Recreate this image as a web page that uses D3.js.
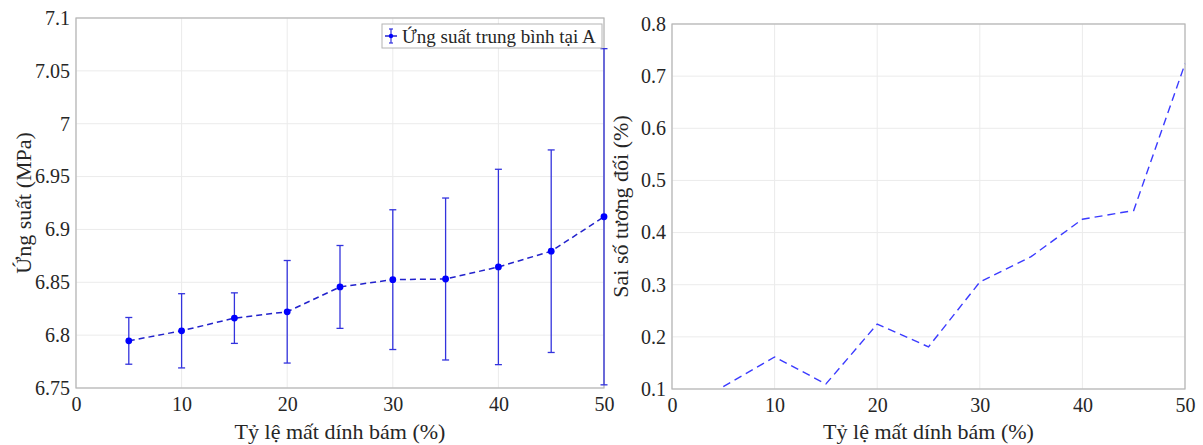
<!DOCTYPE html>
<html>
<head>
<meta charset="utf-8">
<script src="https://cdn.jsdelivr.net/npm/d3@7"></script>
<style>
  html, body { margin: 0; padding: 0; background: #fff; }
  svg { display: block; }
  svg text { font-family: 'Liberation Serif', 'Times New Roman', serif !important; fill: #262626; }
</style>
</head>
<body>
<svg id="chart" width="1203" height="445"></svg>
<script>
// Bond-loss ratio (%)
const lossRatio = [5, 10, 15, 20, 25, 30, 35, 40, 45, 50];
// Mean stress at A (MPa) and half-width of its error bar
const meanStress = [6.7946, 6.8041, 6.8161, 6.8221, 6.8456, 6.8525, 6.8531, 6.8645, 6.8794, 6.912];
const stressErr  = [0.0221, 0.0351, 0.0239, 0.0485, 0.0392, 0.0661, 0.0766, 0.0924, 0.0958, 0.159];
// Relative error (%)
const relError = [0.1045, 0.1615, 0.1096, 0.2244, 0.1808, 0.3051, 0.3538, 0.4256, 0.4423, 0.7237];

const xTicks = [0, 10, 20, 30, 40, 50];
const leftYTicks = [6.75, 6.8, 6.85, 6.9, 6.95, 7, 7.05, 7.1];
const rightYTicks = [0.1, 0.2, 0.3, 0.4, 0.5, 0.6, 0.7, 0.8];

const xLabel = "Tỷ lệ mất dính bám (%)";
const leftYLabel = "Ứng suất (MPa)";
const rightYLabel = "Sai số tương đối (%)";
const legendLabel = "Ứng suất trung bình tại A";

const SERIF = "'Liberation Serif', 'Times New Roman', serif";
const svg = d3.select("#chart").attr("font-family", SERIF);
const BLUE = "#0000ff";

function panel(box, yDomain, yTicks, yLabel, yLabelX) {
  const g = svg.append("g");
  const x = d3.scaleLinear().domain([0, 50]).range([box.x0, box.x1]);
  const y = d3.scaleLinear().domain(yDomain).range([box.y1, box.y0]);

  // grid
  g.append("g").selectAll("line.v").data(xTicks).join("line")
    .attr("x1", d => x(d)).attr("x2", d => x(d))
    .attr("y1", box.y0).attr("y2", box.y1)
    .attr("stroke", "#ebebeb").attr("stroke-width", 1);
  g.append("g").selectAll("line.h").data(yTicks).join("line")
    .attr("x1", box.x0).attr("x2", box.x1)
    .attr("y1", d => y(d)).attr("y2", d => y(d))
    .attr("stroke", "#ebebeb").attr("stroke-width", 1);

  // axes via d3 axis generators
  const xAxis = g.append("g").attr("transform", `translate(0,${box.y1})`)
    .call(d3.axisBottom(x).tickValues(xTicks).tickSize(0).tickPadding(9).tickFormat(d3.format("d")));
  const yAxis = g.append("g").attr("transform", `translate(${box.x0},0)`)
    .call(d3.axisLeft(y).tickValues(yTicks).tickSize(0).tickPadding(6).tickFormat(d => String(+d.toFixed(2))));
  [xAxis, yAxis].forEach(a => {
    a.attr("font-family", SERIF).attr("font-size", 20);
    a.select(".domain").remove();
    a.selectAll("text").attr("font-size", 20).attr("fill", "#262626").attr("font-family", SERIF);
  });

  // box frame
  g.append("rect").attr("x", box.x0).attr("y", box.y0)
    .attr("width", box.x1 - box.x0).attr("height", box.y1 - box.y0)
    .attr("fill", "none").attr("stroke", "#b4b4b4").attr("stroke-width", 1.2);

  // axis titles
  g.append("text").attr("x", (box.x0 + box.x1) / 2).attr("y", 439)
    .attr("text-anchor", "middle").attr("font-size", 22).text(xLabel);
  g.append("text")
    .attr("transform", `translate(${yLabelX},${(box.y0 + box.y1) / 2}) rotate(-90)`)
    .attr("text-anchor", "middle").attr("font-size", 22).text(yLabel);

  return { g, x, y };
}

// ---- Left panel: mean stress with error bars ----
const L = panel({ x0: 76, x1: 604, y0: 18, y1: 388 }, [6.75, 7.1], leftYTicks, leftYLabel, 31);
const stress = lossRatio.map((r, i) => ({ r, m: meanStress[i], e: stressErr[i] }));
const cap = 3.5;
const eb = L.g.append("g").attr("stroke", "#3333dd").attr("stroke-width", 1.3);
eb.selectAll("line.bar").data(stress).join("line")
  .attr("x1", d => L.x(d.r)).attr("x2", d => L.x(d.r))
  .attr("y1", d => L.y(d.m - d.e)).attr("y2", d => L.y(d.m + d.e));
eb.selectAll("line.top").data(stress).join("line")
  .attr("x1", d => L.x(d.r) - cap).attr("x2", d => L.x(d.r) + cap)
  .attr("y1", d => L.y(d.m + d.e)).attr("y2", d => L.y(d.m + d.e));
eb.selectAll("line.bot").data(stress).join("line")
  .attr("x1", d => L.x(d.r) - cap).attr("x2", d => L.x(d.r) + cap)
  .attr("y1", d => L.y(d.m - d.e)).attr("y2", d => L.y(d.m - d.e));
L.g.append("path").datum(stress)
  .attr("d", d3.line().x(d => L.x(d.r)).y(d => L.y(d.m)))
  .attr("fill", "none").attr("stroke", "#2222cc").attr("stroke-width", 1.5)
  .attr("stroke-dasharray", "6,4");
L.g.selectAll("circle").data(stress).join("circle")
  .attr("cx", d => L.x(d.r)).attr("cy", d => L.y(d.m)).attr("r", 3.4)
  .attr("fill", BLUE);

// legend
const lg = L.g.append("g");
lg.append("rect").attr("x", 382).attr("y", 24).attr("width", 220).attr("height", 24)
  .attr("fill", "#fff").attr("stroke", "#b4b4b4").attr("stroke-width", 1);
lg.append("line").attr("x1", 385).attr("x2", 397).attr("y1", 36).attr("y2", 36)
  .attr("stroke", "#2222cc").attr("stroke-width", 1.5);
lg.append("line").attr("x1", 391).attr("x2", 391).attr("y1", 29).attr("y2", 43)
  .attr("stroke", "#3333dd").attr("stroke-width", 1.2);
lg.append("line").attr("x1", 389).attr("x2", 393).attr("y1", 29).attr("y2", 29)
  .attr("stroke", "#3333dd").attr("stroke-width", 1.2);
lg.append("line").attr("x1", 389).attr("x2", 393).attr("y1", 43).attr("y2", 43)
  .attr("stroke", "#3333dd").attr("stroke-width", 1.2);
lg.append("circle").attr("cx", 391).attr("cy", 36).attr("r", 2.2).attr("fill", BLUE);
lg.append("text").attr("x", 402).attr("y", 42.5).attr("font-size", 19).text(legendLabel);

// ---- Right panel: relative error ----
const R = panel({ x0: 672, x1: 1185, y0: 24, y1: 389 }, [0.1, 0.8], rightYTicks, rightYLabel, 628);
R.g.append("path").datum(lossRatio.map((r, i) => ({ r, v: relError[i] })))
  .attr("d", d3.line().x(d => R.x(d.r)).y(d => R.y(d.v)))
  .attr("fill", "none").attr("stroke", "#3b3bff").attr("stroke-width", 1.4)
  .attr("stroke-dasharray", "8,5");
</script>
</body>
</html>
